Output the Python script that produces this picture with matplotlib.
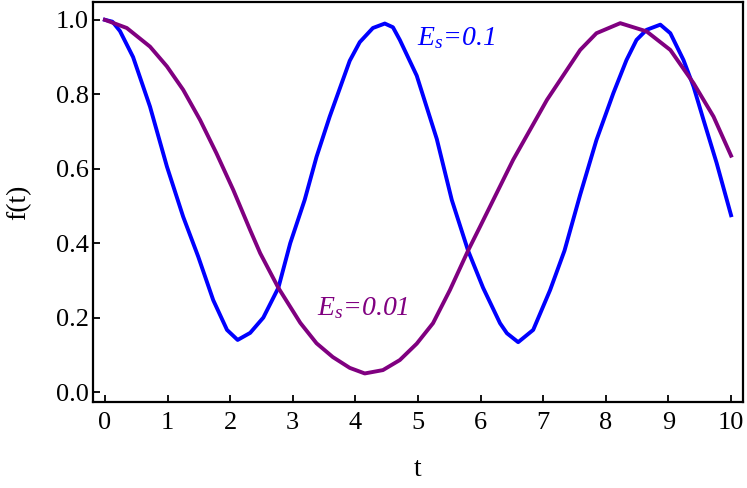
import matplotlib.pyplot as plt

plt.rcParams['font.family'] = ['Liberation Serif', 'DejaVu Serif']
plt.rcParams['mathtext.fontset'] = 'custom'
plt.rcParams['mathtext.rm'] = 'Liberation Serif'
plt.rcParams['mathtext.it'] = 'Liberation Serif:italic'

# Values
t_blue = [0.0, 0.12, 0.24, 0.45, 0.72, 0.99, 1.25, 1.49, 1.73, 1.95, 2.12,
          2.32, 2.53, 2.77, 2.96, 3.19, 3.38, 3.59, 3.91, 4.07, 4.28, 4.47,
          4.60, 4.71, 4.98, 5.30, 5.54, 5.80, 6.04, 6.31, 6.42, 6.60, 6.84,
          7.11, 7.34, 7.59, 7.85, 8.12, 8.33, 8.49, 8.65, 8.87, 9.03, 9.24,
          9.40, 9.56, 9.77, 10.0]
f_blue = [1.0, 0.995, 0.97, 0.90, 0.767, 0.606, 0.471, 0.364, 0.247, 0.167, 0.14,
          0.159, 0.20, 0.28, 0.40, 0.516, 0.632, 0.74, 0.89, 0.94, 0.978, 0.99,
          0.98, 0.946, 0.85, 0.68, 0.516, 0.38, 0.28, 0.185, 0.158, 0.134, 0.167,
          0.274, 0.38, 0.53, 0.677, 0.803, 0.892, 0.946, 0.973, 0.987, 0.964, 0.892,
          0.821, 0.731, 0.615, 0.475]

t_purple = [0.0, 0.35, 0.72, 0.99, 1.25, 1.52, 1.78, 2.05, 2.32, 2.48,
            2.77, 3.12, 3.38, 3.64, 3.91, 4.15, 4.44, 4.71, 4.98, 5.24,
            5.51, 5.80, 5.99, 6.52, 7.06, 7.59, 7.85, 8.23, 8.65, 9.03,
            9.40, 9.72, 10.0]
f_purple = [1.0, 0.978, 0.928, 0.875, 0.812, 0.731, 0.642, 0.543, 0.435, 0.373,
            0.28, 0.186, 0.131, 0.094, 0.065, 0.05, 0.059, 0.086, 0.13, 0.185,
            0.274, 0.38, 0.444, 0.624, 0.785, 0.919, 0.964, 0.991, 0.969, 0.919,
            0.830, 0.74, 0.635]

labels = ['$E_s$=0.1', '$E_s$=0.01']
colors = ['#0000ff', '#800080']

fig = plt.figure(figsize=(7.47, 4.88), dpi=100)
ax = fig.add_axes([0.1245, 0.176, 0.8701, 0.820])

ax.plot(t_blue, f_blue, color=colors[0], lw=2.8, solid_joinstyle='round')
ax.plot(t_purple, f_purple, color=colors[1], lw=2.8, solid_joinstyle='round')

ax.text(4.98, 0.95, labels[0], color=colors[0], fontsize=20,
        style='italic', va='center', ha='left')
ax.text(3.39, 0.226, labels[1], color=colors[1], fontsize=20,
        style='italic', va='center', ha='left')

ax.set_xlim(-0.19, 10.19)
ax.set_ylim(-0.027, 1.048)
ax.set_xticks(range(0, 11))
ax.set_yticks([0.0, 0.2, 0.4, 0.6, 0.8, 1.0])
ax.set_yticklabels(['0.0', '0.2', '0.4', '0.6', '0.8', '1.0'])
ax.tick_params(direction='in', length=5, width=1.3, labelsize=19)
ax.tick_params(axis='x', pad=7)
ax.tick_params(axis='y', pad=3)
for s in ax.spines.values():
    s.set_linewidth(1.6)

ax.set_xlabel('t', fontsize=20, labelpad=17)
ax.set_ylabel('f(t)', fontsize=20, labelpad=18)

fig.savefig('out.png', dpi=100)
